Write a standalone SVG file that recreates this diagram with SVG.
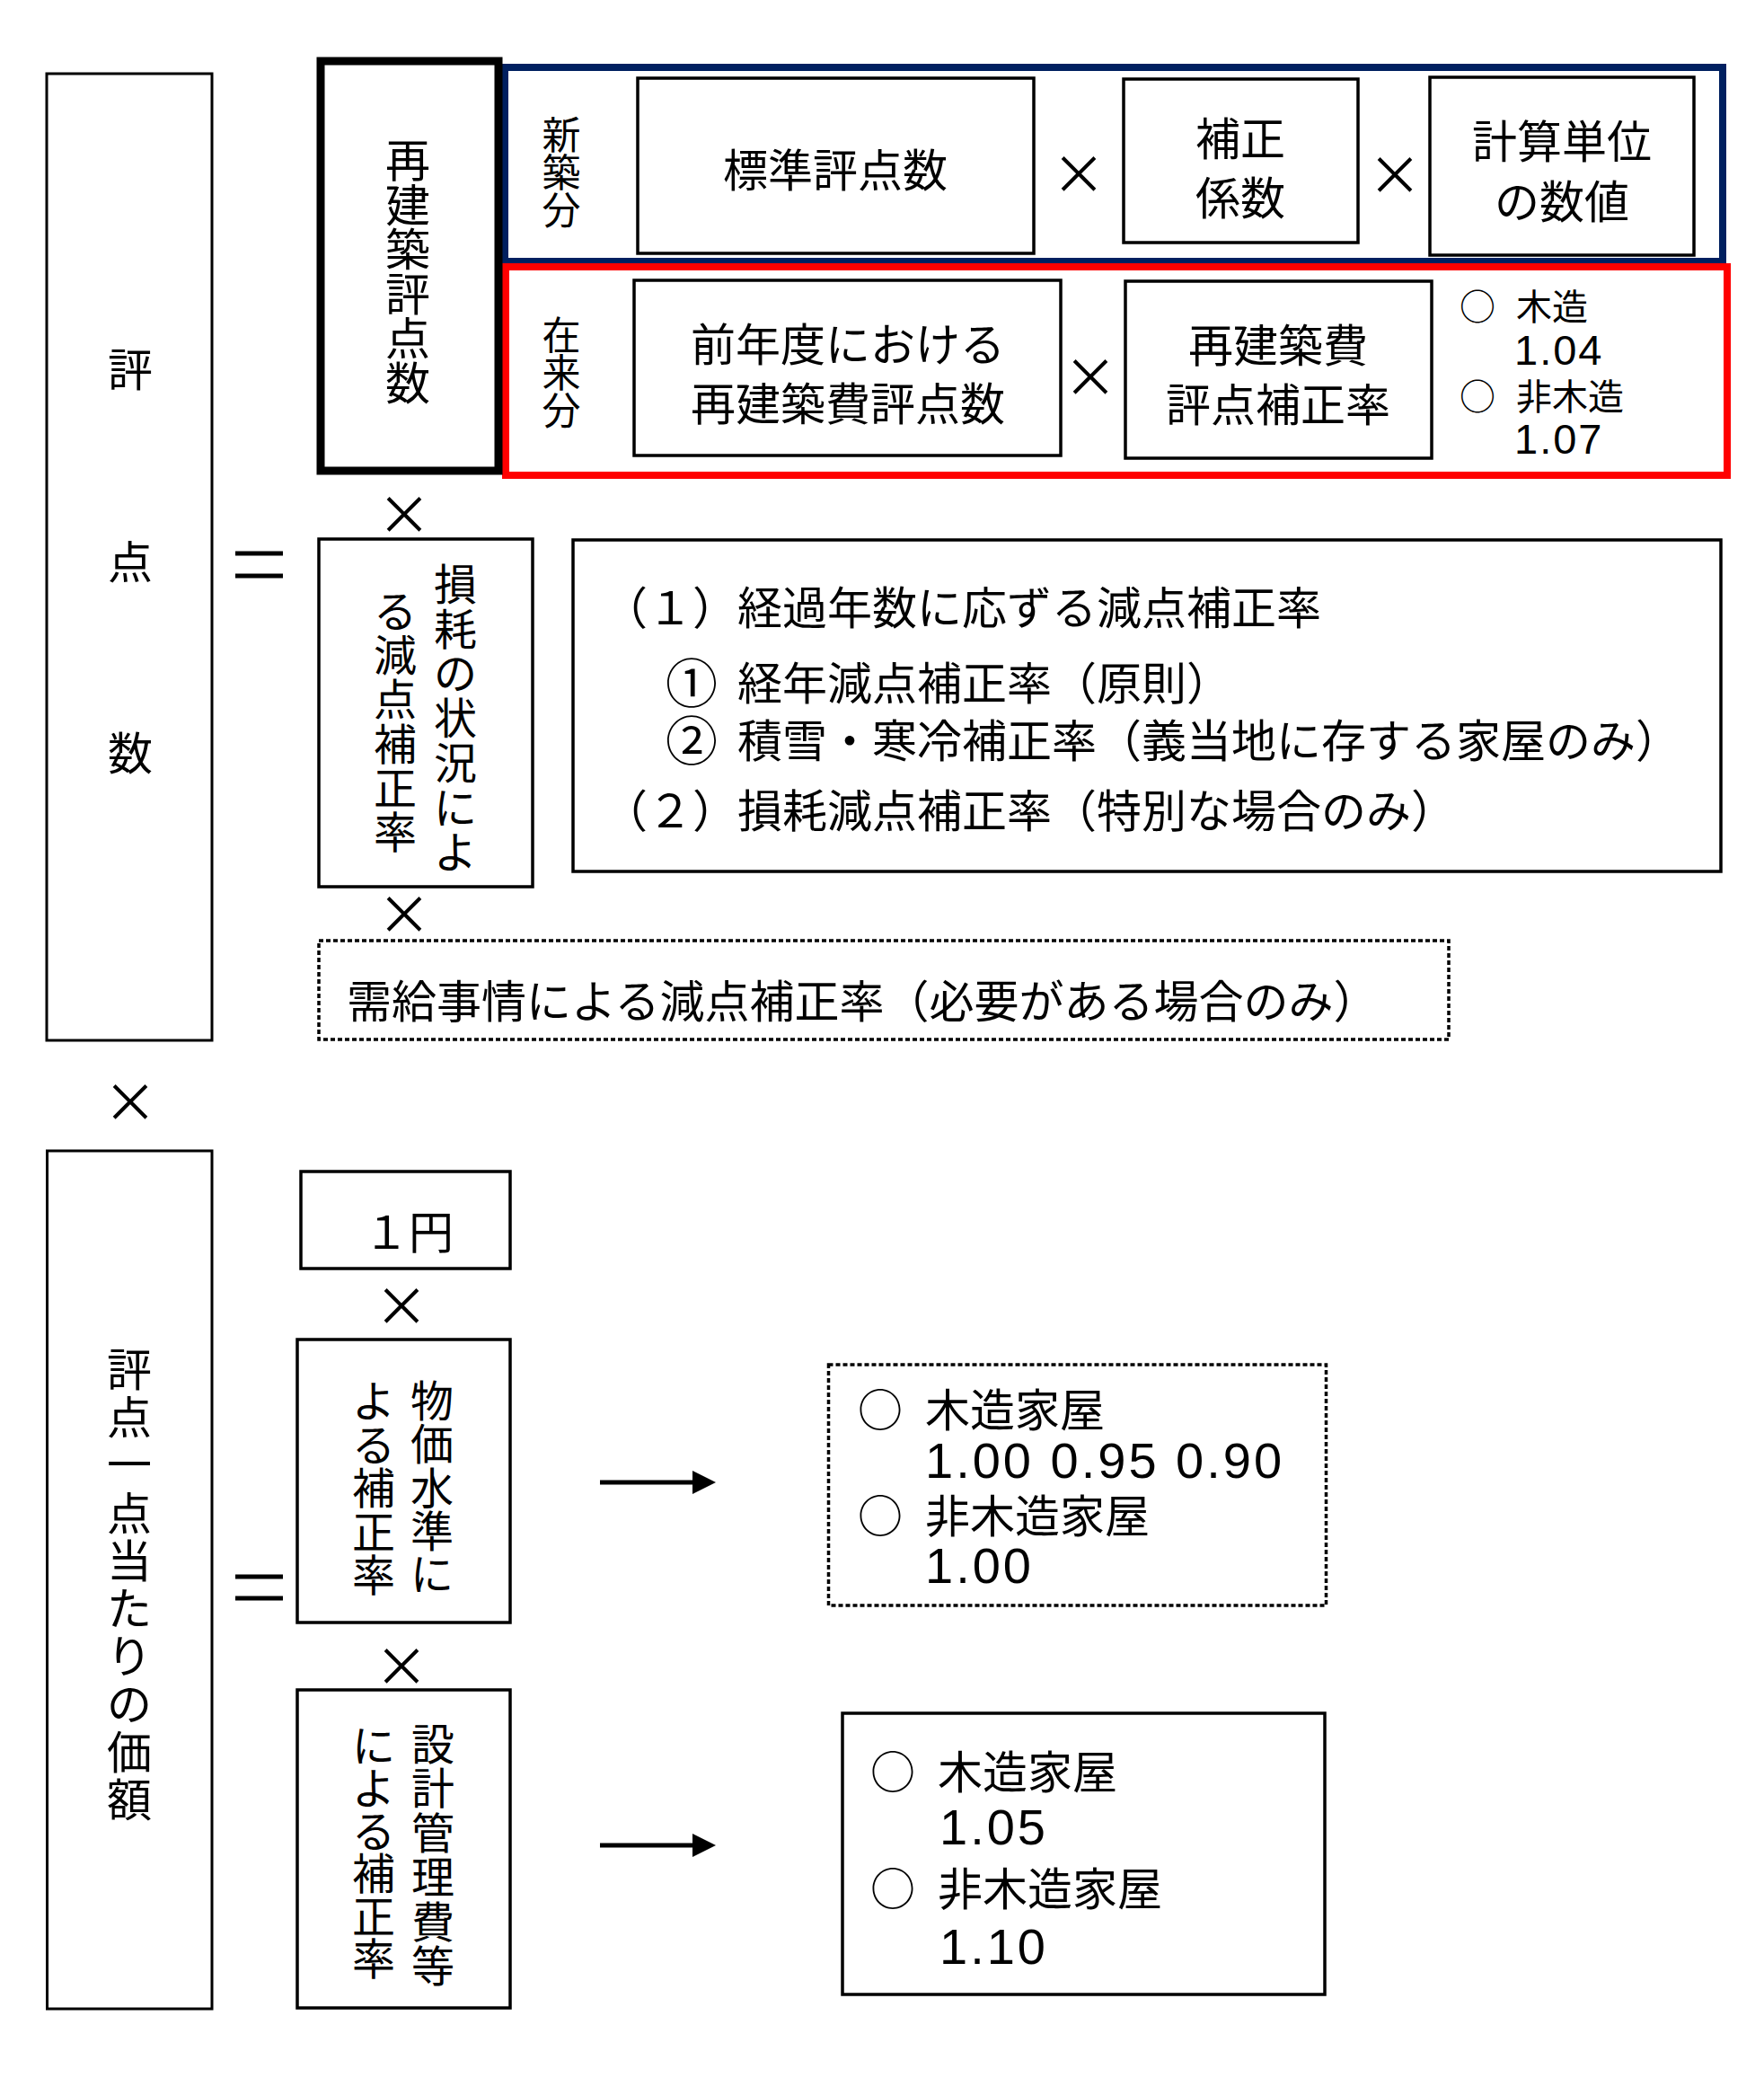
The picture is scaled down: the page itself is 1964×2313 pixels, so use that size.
<svg xmlns="http://www.w3.org/2000/svg" width="1964" height="2313" viewBox="0 0 1964 2313">
<style>
.bg{fill:#fff}
.b{fill:none;stroke:#000;stroke-width:3.5}
.lb{fill:none;stroke:#000;stroke-width:3}
.d{fill:none;stroke:#000;stroke-width:3.5;stroke-dasharray:5 3}
.t{font-family:"Noto Sans CJK JP","Noto Sans CJK SC",sans-serif;font-size:50px;fill:#000;dominant-baseline:central}
.m{text-anchor:middle}
.s42{font-size:43px}
.s40{font-size:40px}
.s48{font-size:48px}
.c{font-size:58px}
.n{font-family:"Liberation Sans","Noto Sans CJK JP",sans-serif;fill:#000;dominant-baseline:central}
.x{font-family:"Noto Sans CJK JP",sans-serif;font-size:60px;fill:#000;text-anchor:middle;dominant-baseline:central}
.eq{stroke:#000;stroke-width:5}
.ar{stroke:#000;stroke-width:5;fill:none}
</style>
<defs>
<marker id="ah" markerUnits="userSpaceOnUse" markerWidth="26" markerHeight="26" refX="0" refY="13" orient="auto">
<path d="M0,0 L26,13 L0,26 z" fill="#000"/>
</marker>
</defs>
<rect class="bg" x="0" y="0" width="1964" height="2313"/>

<g id="hyoutensu">
<rect class="lb" x="52" y="82" width="184" height="1076"/>
<text class="t m"><tspan x="145" y="408">評</tspan><tspan x="145" y="622">点</tspan><tspan x="145" y="835">数</tspan></text>
</g>

<g id="shinchiku-group">
<rect x="562" y="75" width="1356" height="216" fill="none" stroke="#002060" stroke-width="8"/>
<text class="t s42 m"><tspan x="625" y="147">新</tspan><tspan x="625" y="189">築</tspan><tspan x="625" y="231">分</tspan></text>
</g>
<g id="zairai-group">
<rect x="563" y="297" width="1360" height="232" fill="none" stroke="#ff0000" stroke-width="8"/>
<text class="t s42 m"><tspan x="625" y="370">在</tspan><tspan x="625" y="412">来</tspan><tspan x="625" y="454">分</tspan></text>
</g>

<g id="saikenchiku">
<rect x="357" y="68" width="198" height="456" fill="#fff" stroke="#000" stroke-width="9"/>
<text class="t m"><tspan x="454" y="175">再</tspan><tspan x="454" y="224.5">建</tspan><tspan x="454" y="274">築</tspan><tspan x="454" y="323.5">評</tspan><tspan x="454" y="373">点</tspan><tspan x="454" y="422.5">数</tspan></text>
</g>

<g id="hyoujun">
<rect class="b" x="710" y="87" width="441" height="195"/>
<text class="t m" x="930" y="186">標準評点数</text>
</g>
<g id="hosei-keisu">
<rect class="b" x="1251" y="88" width="261" height="182"/>
<text class="t m" x="1381" y="151">補正</text>
<text class="t m" x="1381" y="217">係数</text>
</g>
<g id="keisan-tani">
<rect class="b" x="1592" y="86" width="294" height="198"/>
<text class="t m" x="1739" y="154">計算単位</text>
<text class="t m" x="1739" y="221">の数値</text>
</g>

<g id="zennendo">
<rect class="b" x="706" y="312" width="475" height="195"/>
<text class="t m" x="944" y="380">前年度における</text>
<text class="t m" x="944" y="446">再建築費評点数</text>
</g>
<g id="saikenchikuhi">
<rect class="b" x="1253" y="313" width="341" height="197"/>
<text class="t m" x="1423" y="381">再建築費</text>
<text class="t m" x="1423" y="447">評点補正率</text>
</g>
<g id="zairai-rates">
<text class="t s40 m" x="1645" y="339">○</text>
<text class="t s40" x="1688" y="339">木造</text>
<text class="n" font-size="47" letter-spacing="2" x="1686" y="389">1.04</text>
<text class="t s40 m" x="1645" y="439">○</text>
<text class="t s40" x="1688" y="439">非木造</text>
<text class="n" font-size="47" letter-spacing="2" x="1686" y="488">1.07</text>
</g>

<g id="sonmou">
<rect class="b" x="355" y="600" width="238" height="387"/>
<text class="t s48 m"><tspan x="507" y="647">損</tspan><tspan x="507" y="696.7">耗</tspan><tspan x="507" y="746.4">の</tspan><tspan x="507" y="796.1">状</tspan><tspan x="507" y="845.8">況</tspan><tspan x="507" y="895.5">に</tspan><tspan x="507" y="945.2">よ</tspan><tspan x="440" y="677">る</tspan><tspan x="440" y="726.2">減</tspan><tspan x="440" y="775.4">点</tspan><tspan x="440" y="824.6">補</tspan><tspan x="440" y="873.8">正</tspan><tspan x="440" y="923">率</tspan></text>
</g>

<g id="genten-list">
<rect class="b" x="638" y="601" width="1278" height="369"/>
<text class="t" x="671" y="673">（１）経過年数に応ずる減点補正率</text>
<text class="t" y="757"><tspan class="c" x="741">①</tspan><tspan x="821">経年減点補正率（原則）</tspan></text>
<text class="t" y="821"><tspan class="c" x="741">②</tspan><tspan x="821">積雪・寒冷補正率（義当地に存する家屋のみ）</tspan></text>
<text class="t" x="671" y="899">（２）損耗減点補正率（特別な場合のみ）</text>
</g>

<g id="jukyu">
<rect class="d" x="355" y="1047" width="1258" height="110"/>
<text class="t" x="386" y="1111">需給事情による減点補正率（必要がある場合のみ）</text>
</g>

<g id="ten-atari">
<rect class="lb" x="52.5" y="1281" width="183.5" height="955"/>
<text class="t m"><tspan x="144" y="1521">評</tspan><tspan x="144" y="1574.2">点</tspan><tspan x="144" y="1627.4">一</tspan><tspan x="144" y="1680.6">点</tspan><tspan x="144" y="1733.8">当</tspan><tspan x="144" y="1787">た</tspan><tspan x="144" y="1840.2">り</tspan><tspan x="144" y="1893.4">の</tspan><tspan x="144" y="1946.6">価</tspan><tspan x="144" y="2000">額</tspan></text>
</g>

<g id="ichien">
<rect class="b" x="335" y="1304" width="233" height="108"/>
<text class="t m" x="455" y="1368">１円</text>
</g>

<g id="bukka">
<rect class="b" x="331" y="1491" width="237" height="315"/>
<text class="t s48 m"><tspan x="481" y="1556">物</tspan><tspan x="481" y="1604.3">価</tspan><tspan x="481" y="1652.5">水</tspan><tspan x="481" y="1700.8">準</tspan><tspan x="481" y="1749">に</tspan><tspan x="416" y="1556">よ</tspan><tspan x="416" y="1604.5">る</tspan><tspan x="416" y="1653">補</tspan><tspan x="416" y="1701.5">正</tspan><tspan x="416" y="1750">率</tspan></text>
</g>

<g id="sekkei">
<rect class="b" x="331" y="1881" width="237" height="354"/>
<text class="t s48 m"><tspan x="482" y="1938">設</tspan><tspan x="482" y="1987.4">計</tspan><tspan x="482" y="2036.8">管</tspan><tspan x="482" y="2086.2">理</tspan><tspan x="482" y="2135.6">費</tspan><tspan x="482" y="2185">等</tspan><tspan x="416" y="1940">に</tspan><tspan x="416" y="1987.4">よ</tspan><tspan x="416" y="2034.8">る</tspan><tspan x="416" y="2082.2">補</tspan><tspan x="416" y="2129.6">正</tspan><tspan x="416" y="2177">率</tspan></text>
</g>

<g id="bukka-rates">
<rect class="d" x="922.5" y="1519" width="554" height="268"/>
<text class="t m" x="980" y="1566">○</text>
<text class="t" x="1030" y="1566">木造家屋</text>
<text class="n" font-size="56" letter-spacing="3" x="1030" y="1625">1.00 0.95 0.90</text>
<text class="t m" x="980" y="1684">○</text>
<text class="t" x="1030" y="1684">非木造家屋</text>
<text class="n" font-size="56" letter-spacing="3" x="1030" y="1742">1.00</text>
</g>

<g id="sekkei-rates">
<rect class="b" x="938" y="1907" width="537" height="313"/>
<text class="t m" x="994" y="1969">○</text>
<text class="t" x="1044" y="1969">木造家屋</text>
<text class="n" font-size="56" letter-spacing="3" x="1046" y="2033">1.05</text>
<text class="t m" x="994" y="2099">○</text>
<text class="t" x="1044" y="2099">非木造家屋</text>
<text class="n" font-size="56" letter-spacing="3" x="1046" y="2166">1.10</text>
</g>

<g id="operators">
<text class="x" x="1201" y="189">×</text>
<text class="x" x="1553" y="190">×</text>
<text class="x" x="1214" y="415">×</text>
<text class="x" x="450" y="568">×</text>
<text class="x" x="450" y="1013">×</text>
<text class="x" x="145" y="1222">×</text>
<text class="x" x="447" y="1449">×</text>
<text class="x" x="447" y="1850">×</text>
<line class="eq" x1="262" y1="616" x2="315" y2="616"/>
<line class="eq" x1="262" y1="641" x2="315" y2="641"/>
<line class="eq" x1="262" y1="1755" x2="315" y2="1755"/>
<line class="eq" x1="262" y1="1779" x2="315" y2="1779"/>
</g>

<g id="connectors">
<line class="ar" x1="668" y1="1650" x2="771" y2="1650" marker-end="url(#ah)"/>
<line class="ar" x1="668" y1="2054" x2="771" y2="2054" marker-end="url(#ah)"/>
</g>
</svg>
